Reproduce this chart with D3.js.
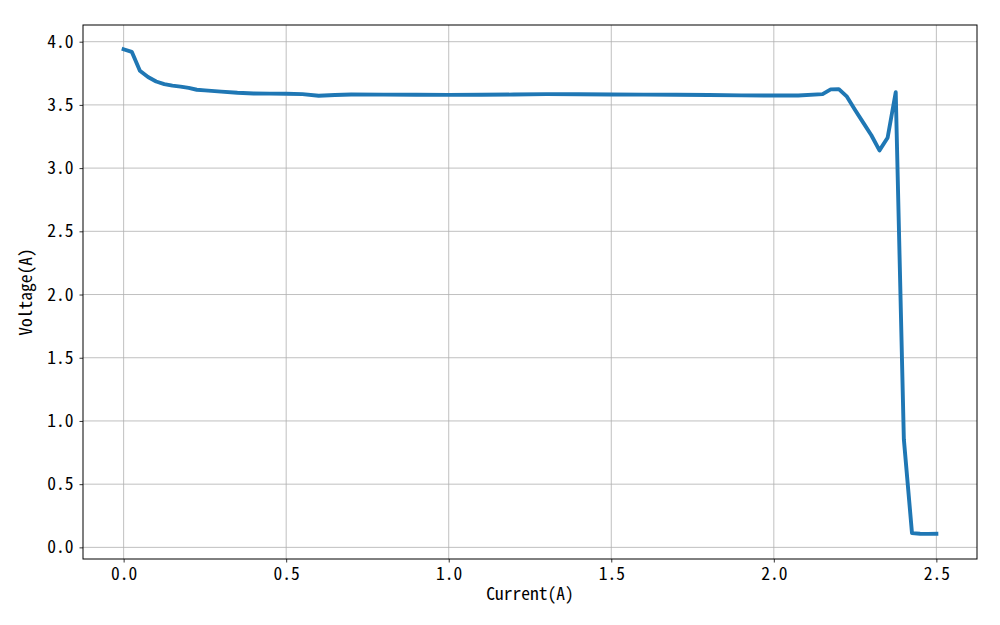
<!DOCTYPE html>
<html>
<head>
<meta charset="utf-8">
<script src="https://cdn.jsdelivr.net/npm/d3@7"></script>
<style>
  body { margin: 0; background: #fff; }
  svg text { font-family: "Noto Sans Mono CJK SC", "DejaVu Sans Mono", monospace; fill: #000; }
</style>
</head>
<body>
<div id="chart"></div>
<script>
// data
const current = [0, 0.025, 0.05, 0.075, 0.1, 0.125, 0.15, 0.175, 0.2, 0.225, 0.25, 0.3, 0.35, 0.4, 0.45, 0.5,
  0.55, 0.6, 0.65, 0.7, 0.8, 0.9, 1.0, 1.1, 1.2, 1.3, 1.4, 1.5, 1.6, 1.7, 1.8, 1.9, 2.0, 2.075, 2.15,
  2.175, 2.2, 2.225, 2.25, 2.275, 2.3, 2.325, 2.35, 2.375, 2.4, 2.425, 2.45, 2.475, 2.5]
const voltage = [3.94, 3.92, 3.77, 3.72, 3.685, 3.665, 3.652, 3.645, 3.635, 3.62, 3.615, 3.605, 3.596, 3.59, 3.589, 3.588,
  3.585, 3.572, 3.578, 3.582, 3.581, 3.580, 3.579, 3.580, 3.582, 3.585, 3.584, 3.582, 3.581, 3.580, 3.578, 3.575, 3.574, 3.574, 3.585,
  3.623, 3.625, 3.565, 3.46, 3.36, 3.26, 3.14, 3.24, 3.60, 0.855, 0.113, 0.108, 0.107, 0.108]
const xTicks = [0, 0.5, 1.0, 1.5, 2.0, 2.5]
const yTicks = [0, 0.5, 1.0, 1.5, 2.0, 2.5, 3.0, 3.5, 4.0]

var margin = { top: 25, right: 23, bottom: 66, left: 83 },
    width = 1000 - margin.left - margin.right,
    height = 625 - margin.top - margin.bottom

var points = current.map((c, i) => ({ x: c, y: voltage[i] }))

var x = d3.scaleLinear().domain([-0.125, 2.625]).range([0, width])
var y = d3.scaleLinear().domain([-0.092, 4.132]).range([height, 0])

var svg = d3.select("#chart").append("svg")
    .attr("width", 1000)
    .attr("height", 625)
  .append("g")
    .attr("transform", "translate(" + margin.left + "," + margin.top + ")")

// grid
svg.append("g").selectAll("line").data(xTicks).enter().append("line")
    .attr("x1", d => x(d)).attr("x2", d => x(d))
    .attr("y1", 0).attr("y2", height)
    .attr("stroke", "#b0b0b0").attr("stroke-width", 0.8)
svg.append("g").selectAll("line").data(yTicks).enter().append("line")
    .attr("y1", d => y(d)).attr("y2", d => y(d))
    .attr("x1", 0).attr("x2", width)
    .attr("stroke", "#b0b0b0").attr("stroke-width", 0.8)

// the curve
var line = d3.line().x(d => x(d.x)).y(d => y(d.y))
svg.append("path")
    .datum(points)
    .attr("d", line)
    .attr("fill", "none")
    .attr("stroke", "#1f77b4")
    .attr("stroke-width", 3.9)
    .attr("stroke-linejoin", "round")
    .attr("stroke-linecap", "square")

// axes
var xAxis = d3.axisBottom(x).tickValues(xTicks).tickFormat(d3.format(".1f")).tickSizeOuter(0).tickSize(3.5).tickPadding(5)
var yAxis = d3.axisLeft(y).tickValues(yTicks).tickFormat(d3.format(".1f")).tickSizeOuter(0).tickSize(3.5).tickPadding(6)

var gx = svg.append("g").attr("transform", "translate(0," + height + ")").call(xAxis)
var gy = svg.append("g").call(yAxis)
gx.select(".domain").remove()
gy.select(".domain").remove()
gx.selectAll("text").attr("font-size", 17.5)
gy.selectAll("text").attr("font-size", 17.5)
svg.selectAll(".tick line").attr("stroke", "#000").attr("stroke-width", 0.8)

// frame
svg.append("rect")
    .attr("width", width).attr("height", height)
    .attr("fill", "none").attr("stroke", "#000").attr("stroke-width", 1)

// labels
svg.append("text")
    .attr("x", x(1.25)).attr("y", height + 41)
    .attr("text-anchor", "middle")
    .attr("font-size", 17.5)
    .text("Current(A)")

svg.append("text")
    .attr("transform", "translate(" + (-51) + "," + (height / 2) + ") rotate(-90)")
    .attr("text-anchor", "middle")
    .attr("font-size", 17.5)
    .text("Voltage(A)")
</script>
</body>
</html>
